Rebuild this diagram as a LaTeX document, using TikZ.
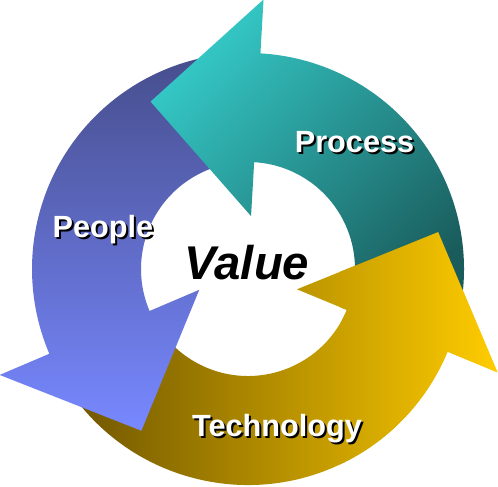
\documentclass[tikz,border=0pt]{standalone}
\usepackage{fontspec}
\setmainfont{Liberation Sans}
\usepackage{tikz}

\definecolor{peopleTop}{RGB}{70,78,140}
\definecolor{peopleBot}{RGB}{120,136,255}
\definecolor{processLt}{RGB}{52,200,198}
\definecolor{processDk}{RGB}{26,92,92}
\definecolor{techDk}{RGB}{107,82,0}
\definecolor{techLt}{RGB}{255,204,0}

\newcommand{\shadowed}[1]{\rlap{\hspace{1.5pt}\raisebox{-1.5pt}{\color{black}#1}}#1}

\begin{document}
\begin{tikzpicture}[x=0.75pt,y=0.75pt,yscale=-1,xscale=1,
    lbl/.style={anchor=base,inner sep=0.75pt,text=white,font=\fontsize{23}{27}\selectfont\bfseries},
    centre/.style={anchor=base,inner sep=0.75pt,text=black,font=\fontsize{35.5}{40}\selectfont\bfseries\itshape}]
        \useasboundingbox (0,0) rectangle (498,486);

        %Shape: Circular Arrow [Technology]
        \shade [left color=techDk, right color=techLt, shift={(248,269)}] (-208:216) arc [start angle=-208, end angle=-337.5, radius=216] -- (-337.5:270) -- (-371:193.7) -- (-337.5:53) -- (-337.5:107) arc [start angle=-337.5, end angle=-208, radius=107] -- cycle ;
        %Shape: Circular Arrow [People]
        \shade [top color=peopleTop, bottom color=peopleBot, shift={(248,269)}] (-93:216) arc [start angle=-93, end angle=-203.1, radius=216] -- (-203.1:270) -- (-236.6:193.7) -- (-203.1:53) -- (-203.1:107) arc [start angle=-203.1, end angle=-93, radius=107] -- cycle ;
        %Shape: Circular Arrow [Process]
        \shade [top color=processLt, bottom color=processDk, shading angle=45, shift={(248,269)}] (15:216) arc [start angle=15, end angle=-86.7, radius=216] -- (-86.7:270) -- (-120.2:193.7) -- (-86.7:53) -- (-86.7:107) arc [start angle=-86.7, end angle=15, radius=107] -- cycle ;
        %Shape: Circular Arrow [Technology, head over the Process tail]
        \begin{scope}
        \clip (340,0) rectangle (498,486);
        \shade [left color=techDk, right color=techLt, shift={(248,269)}] (-208:216) arc [start angle=-208, end angle=-337.5, radius=216] -- (-337.5:270) -- (-371:193.7) -- (-337.5:53) -- (-337.5:107) arc [start angle=-337.5, end angle=-208, radius=107] -- cycle ;
        \end{scope}

        % Text Node
        \draw (354.5,152) node (process) [lbl] {\shadowed{Process}};
        % Text Node
        \draw (103,237) node (people) [lbl] {\shadowed{People}};
        % Text Node
        \draw (277,436) node (technology) [lbl] {\shadowed{Technology}};
        % Text Node
        \draw (247,279.5) node (value) [centre] {Value};
\end{tikzpicture}
\end{document}
